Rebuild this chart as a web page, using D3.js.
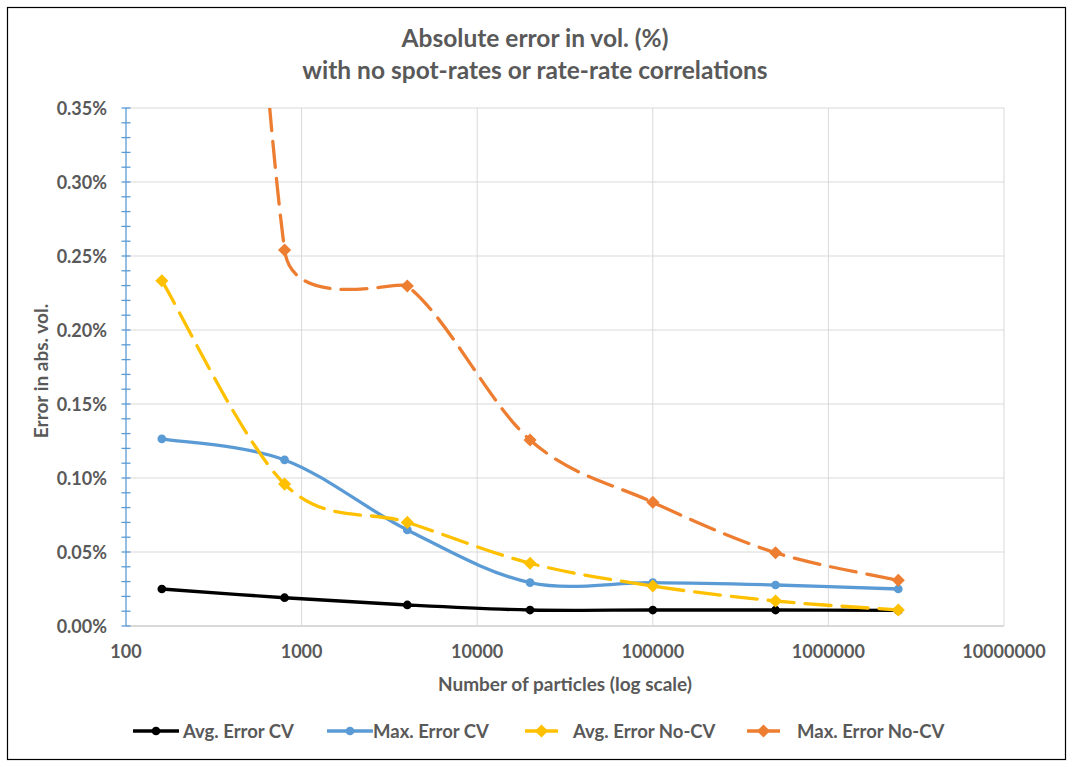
<!DOCTYPE html>
<html>
<head>
<meta charset="utf-8">
<script src="https://cdn.jsdelivr.net/npm/d3@7"></script>
<style>
  body { margin: 0; background: #fff; }
  text { font-family: Lato, "Open Sans", sans-serif; font-weight: bold; fill: #595959; }
</style>
</head>
<body>
<div id="chart"></div>
<script>
// number of particles (x, log scale)
var particles = [160, 800, 4000, 20000, 100000, 500000, 2500000];
// errors in percent (first Max No-CV point lies above the plot, estimated)
var avgErrorCV   = [0.0250, 0.0191, 0.0142, 0.0108, 0.0108, 0.0108, 0.0105];
var maxErrorCV   = [0.1264, 0.1122, 0.0649, 0.0293, 0.0293, 0.0277, 0.0250];
var avgErrorNoCV = [0.2333, 0.0959, 0.0700, 0.0424, 0.0270, 0.0169, 0.0108];
var maxErrorNoCV = [1.5000, 0.2540, 0.2297, 0.1257, 0.0836, 0.0495, 0.0309];
var seriesNames  = ["Avg. Error CV", "Max. Error CV", "Avg. Error No-CV", "Max. Error No-CV"];
var xTicks = [100, 1000, 10000, 100000, 1000000, 10000000];
var yTicks = [0, 0.05, 0.10, 0.15, 0.20, 0.25, 0.30, 0.35];

var W = 1073, H = 767;
var plot = {left: 126, right: 1004, top: 108, bottom: 626};

var svg = d3.select("#chart").append("svg")
    .attr("width", W).attr("height", H);

svg.append("rect")
    .attr("x", 7.5).attr("y", 7.5)
    .attr("width", 1058).attr("height", 752)
    .attr("fill", "#fff").attr("stroke", "#000").attr("stroke-width", 1.2);

var x = d3.scaleLog().domain([100, 10000000]).range([plot.left, plot.right]);
var y = d3.scaleLinear().domain([0, 0.35]).range([plot.bottom, plot.top]);

// title
svg.append("text").attr("x", 535).attr("y", 47).attr("text-anchor", "middle")
    .style("font-size", "24.5px").text("Absolute error in vol. (%)");
svg.append("text").attr("x", 535).attr("y", 79).attr("text-anchor", "middle")
    .style("font-size", "24.5px").text("with no spot-rates or rate-rate correlations");

// grid
var grid = svg.append("g");
grid.selectAll("line.h").data(yTicks.slice(1)).enter().append("line")
    .attr("x1", plot.left).attr("x2", plot.right)
    .attr("y1", function(d){ return y(d); }).attr("y2", function(d){ return y(d); })
    .attr("stroke", "#d9d9d9").attr("stroke-width", 1);
grid.selectAll("line.v").data(xTicks.slice(1)).enter().append("line")
    .attr("x1", function(d){ return x(d); }).attr("x2", function(d){ return x(d); })
    .attr("y1", plot.top).attr("y2", plot.bottom)
    .attr("stroke", "#d9d9d9").attr("stroke-width", 1);

// x axis line
svg.append("line").attr("x1", plot.left).attr("x2", plot.right)
    .attr("y1", plot.bottom).attr("y2", plot.bottom)
    .attr("stroke", "#d9d9d9").attr("stroke-width", 2);

svg.append("g").selectAll("text").data(xTicks).enter().append("text")
    .attr("x", function(d){ return x(d); }).attr("y", plot.bottom + 32)
    .attr("text-anchor", "middle").style("font-size", "18px")
    .text(function(d){ return d3.format("d")(d); });

// y axis with minor ticks
var yAxis = svg.append("g");
yAxis.append("line").attr("x1", plot.left).attr("x2", plot.left)
    .attr("y1", plot.top).attr("y2", plot.bottom)
    .attr("stroke", "#5b9bd5").attr("stroke-width", 1.3);
yAxis.selectAll("line.t").data(d3.range(0, 36).map(function(i){ return i / 100; }))
    .enter().append("line")
    .attr("x1", plot.left - 4.5).attr("x2", plot.left + 4.5)
    .attr("y1", function(d){ return y(d); }).attr("y2", function(d){ return y(d); })
    .attr("stroke", "#5b9bd5").attr("stroke-width", 1.3);
yAxis.selectAll("text").data(yTicks).enter().append("text")
    .attr("x", plot.left - 19).attr("y", function(d){ return y(d) + 6.5; })
    .attr("text-anchor", "end").style("font-size", "18px")
    .text(function(d){ return d3.format(".2f")(d) + "%"; });

// axis titles
svg.append("text").attr("x", 565).attr("y", 691).attr("text-anchor", "middle")
    .style("font-size", "19px").text("Number of particles (log scale)");
svg.append("text").attr("transform", "translate(48," + 371 + ") rotate(-90)")
    .attr("text-anchor", "middle").style("font-size", "19px").text("Error in abs. vol.");

// series
var series = [
  {name: seriesNames[0], values: avgErrorCV,   color: "#000000", dash: null,    marker: "circle"},
  {name: seriesNames[1], values: maxErrorCV,   color: "#5b9bd5", dash: null,    marker: "circle"},
  {name: seriesNames[2], values: avgErrorNoCV, color: "#ffc000", dash: "26,11", marker: "diamond"},
  {name: seriesNames[3], values: maxErrorNoCV, color: "#ed7d31", dash: "26,11", marker: "diamond"}
];

svg.append("clipPath").attr("id", "clip").append("rect")
    .attr("x", plot.left).attr("y", plot.top)
    .attr("width", plot.right - plot.left).attr("height", plot.bottom - plot.top + 10);

// office-style smoothed line: catmull-rom tangents (1/6), both handles of a
// segment shrunk together when one would be longer than half the segment
function dist(a, b) { return Math.hypot(b[0] - a[0], b[1] - a[1]); }
function smoothPath(data) {
  var pts = data.map(function(d){ return [x(d[0]), y(d[1])]; });
  var p = d3.path();
  p.moveTo(pts[0][0], pts[0][1]);
  for (var i = 0; i < pts.length - 1; i++) {
    var p0 = pts[Math.max(i - 1, 0)], p1 = pts[i], p2 = pts[i + 1],
        p3 = pts[Math.min(i + 2, pts.length - 1)];
    var d12 = dist(p1, p2), d02 = dist(p0, p2), d13 = dist(p1, p3);
    var f = 1 / 6, g = 1 / 6;
    if (d02 / 6 >= d12 / 2) f = d12 / d02 / 2;
    if (d13 / 6 >= d12 / 2) g = d12 / d13 / 2;
    var k = Math.min(f, g);
    p.bezierCurveTo(
      p1[0] + (p2[0] - p0[0]) * k, p1[1] + (p2[1] - p0[1]) * k,
      p2[0] - (p3[0] - p1[0]) * k, p2[1] - (p3[1] - p1[1]) * k,
      p2[0], p2[1]);
  }
  return p.toString();
}

var diamond = d3.symbol().type(d3.symbolDiamond2).size(110);
var circle = d3.symbol().type(d3.symbolCircle).size(60);

var layer = svg.append("g").attr("clip-path", "url(#clip)");
series.forEach(function(s) {
  var pts = particles.map(function(p, i){ return [p, s.values[i]]; });
  layer.append("path").datum(pts)
      .attr("d", smoothPath).attr("fill", "none")
      .attr("stroke", s.color).attr("stroke-width", 3.3)
      .attr("stroke-dasharray", s.dash)
      .attr("stroke-linecap", "round");
  layer.selectAll(null).data(pts).enter().append("path")
      .attr("transform", function(d){ return "translate(" + x(d[0]) + "," + y(d[1]) + ")"; })
      .attr("d", s.marker == "circle" ? circle() : diamond())
      .attr("fill", s.color);
});

// legend
var legendX = [133, 327, 525, 747];
var textX = [183, 373, 573, 797];
var legend = svg.append("g");
series.forEach(function(s, i) {
  var g = legend.append("g");
  var lw = s.marker == "circle" ? 46 : 33;
  g.append("line").attr("x1", legendX[i]).attr("x2", legendX[i] + lw)
      .attr("y1", 731).attr("y2", 731)
      .attr("stroke", s.color).attr("stroke-width", 3.3);
  g.append("path")
      .attr("transform", "translate(" + (legendX[i] + lw / 2) + ",731)")
      .attr("d", s.marker == "circle" ? circle() : diamond())
      .attr("fill", s.color);
  g.append("text").attr("x", textX[i]).attr("y", 737.5)
      .style("font-size", "18.5px").text(s.name);
});
</script>
</body>
</html>
